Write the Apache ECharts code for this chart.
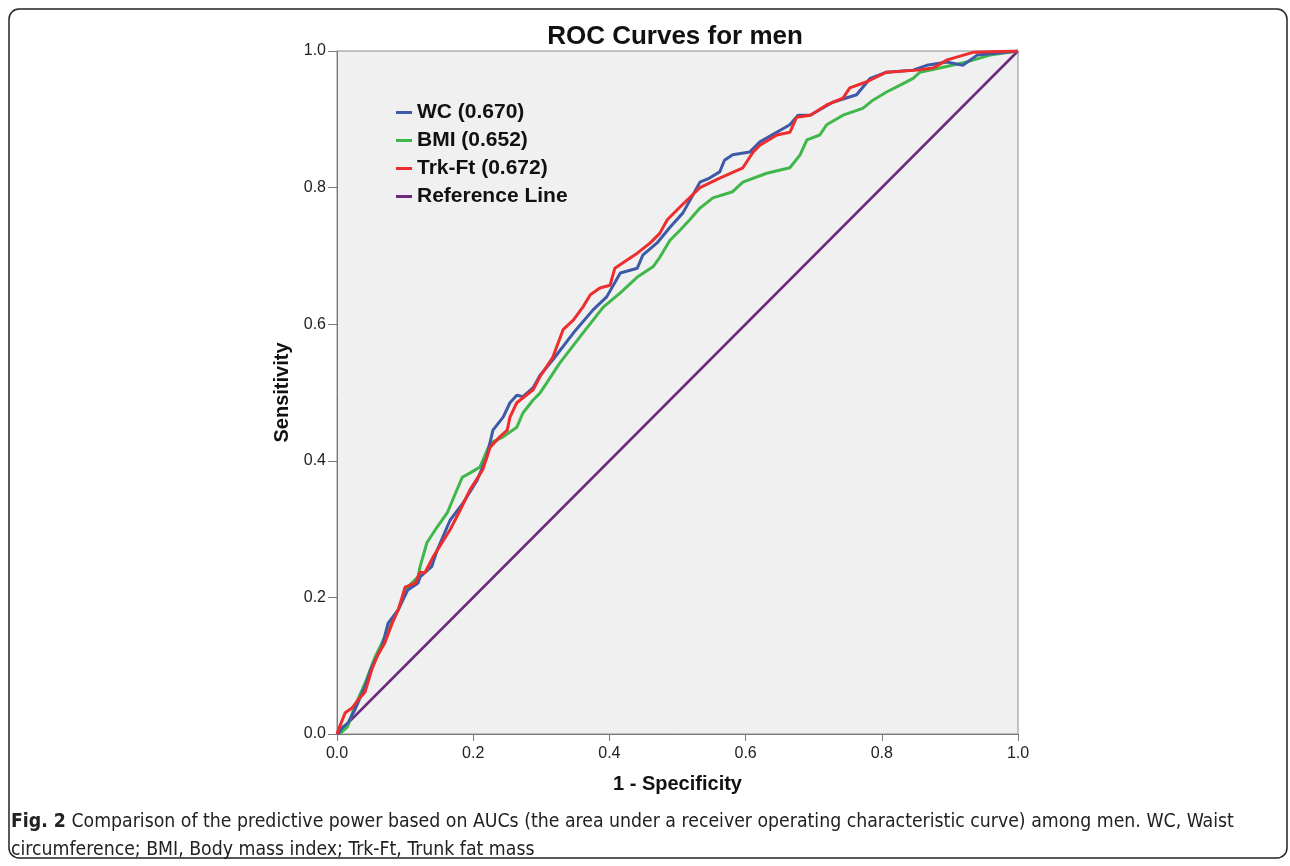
<!DOCTYPE html>
<html>
<head>
<meta charset="utf-8">
<script src="https://cdn.jsdelivr.net/npm/echarts@6/dist/echarts.min.js"></script>
<style>
  html, body { margin: 0; padding: 0; background: #fff; }
  #chart { width: 1290px; height: 866px; }
</style>
</head>
<body>
<div id="chart"></div>
<script>
// ROC points (1 - specificity, sensitivity)
const wcX = [0, 0.003, 0.007, 0.016, 0.026, 0.041, 0.051, 0.066, 0.075, 0.090, 0.104, 0.119, 0.122, 0.139, 0.147, 0.166, 0.185, 0.206, 0.220, 0.229, 0.244, 0.254, 0.264, 0.273, 0.288, 0.298, 0.317, 0.347, 0.376, 0.396, 0.416, 0.441, 0.449, 0.470, 0.489, 0.508, 0.523, 0.533, 0.547, 0.562, 0.569, 0.581, 0.606, 0.621, 0.665, 0.677, 0.695, 0.728, 0.763, 0.783, 0.807, 0.846, 0.866, 0.896, 0.919, 0.940, 0.970, 1]
const wcY = [0, 0.002, 0.009, 0.016, 0.035, 0.069, 0.098, 0.128, 0.162, 0.182, 0.211, 0.221, 0.230, 0.245, 0.269, 0.313, 0.338, 0.372, 0.406, 0.445, 0.464, 0.485, 0.496, 0.494, 0.507, 0.525, 0.548, 0.587, 0.621, 0.640, 0.675, 0.682, 0.701, 0.719, 0.742, 0.763, 0.790, 0.808, 0.814, 0.823, 0.840, 0.848, 0.852, 0.867, 0.892, 0.906, 0.906, 0.925, 0.936, 0.960, 0.969, 0.972, 0.979, 0.984, 0.979, 0.994, 0.997, 1]

const bmiX = [0, 0.007, 0.015, 0.026, 0.041, 0.056, 0.075, 0.090, 0.104, 0.119, 0.122, 0.132, 0.147, 0.162, 0.170, 0.184, 0.195, 0.210, 0.225, 0.244, 0.264, 0.273, 0.288, 0.298, 0.308, 0.327, 0.361, 0.391, 0.416, 0.441, 0.464, 0.474, 0.489, 0.504, 0.518, 0.533, 0.552, 0.581, 0.596, 0.631, 0.665, 0.680, 0.690, 0.709, 0.719, 0.743, 0.772, 0.787, 0.807, 0.827, 0.846, 0.856, 0.885, 0.925, 0.959, 1]
const bmiY = [0, 0.003, 0.010, 0.040, 0.074, 0.113, 0.152, 0.182, 0.215, 0.230, 0.245, 0.280, 0.303, 0.324, 0.343, 0.376, 0.382, 0.391, 0.426, 0.435, 0.449, 0.470, 0.489, 0.499, 0.514, 0.543, 0.587, 0.625, 0.646, 0.669, 0.684, 0.698, 0.723, 0.738, 0.753, 0.770, 0.785, 0.794, 0.808, 0.821, 0.829, 0.848, 0.870, 0.877, 0.892, 0.906, 0.916, 0.928, 0.940, 0.950, 0.960, 0.969, 0.975, 0.984, 0.994, 1]

const trkX = [0, 0.002, 0.012, 0.022, 0.031, 0.041, 0.051, 0.060, 0.070, 0.081, 0.090, 0.100, 0.115, 0.122, 0.129, 0.141, 0.166, 0.181, 0.195, 0.214, 0.225, 0.239, 0.250, 0.254, 0.264, 0.288, 0.298, 0.317, 0.332, 0.347, 0.361, 0.372, 0.386, 0.401, 0.408, 0.426, 0.441, 0.460, 0.474, 0.485, 0.504, 0.533, 0.562, 0.596, 0.611, 0.621, 0.646, 0.665, 0.675, 0.695, 0.719, 0.743, 0.753, 0.778, 0.807, 0.852, 0.875, 0.896, 0.934, 1]
const trkY = [0, 0.006, 0.031, 0.038, 0.050, 0.061, 0.094, 0.116, 0.133, 0.162, 0.182, 0.215, 0.221, 0.237, 0.236, 0.259, 0.299, 0.328, 0.357, 0.387, 0.420, 0.435, 0.445, 0.464, 0.485, 0.504, 0.523, 0.552, 0.592, 0.606, 0.625, 0.643, 0.653, 0.657, 0.682, 0.694, 0.704, 0.719, 0.733, 0.753, 0.772, 0.800, 0.814, 0.829, 0.852, 0.862, 0.877, 0.881, 0.903, 0.906, 0.921, 0.931, 0.946, 0.955, 0.969, 0.972, 0.975, 0.987, 0.998, 1]

const refX = [0, 1]
const refY = [0, 1]

const names = ['WC (0.670)', 'BMI (0.652)', 'Trk-Ft (0.672)', 'Reference Line']
const colors = ['#3d5aa8', '#40b74a', '#ee2d2e', '#6d2a7c']

const pairs = (xs, ys) => xs.map((x, i) => [x, ys[i]])

const myChart = echarts.init(document.getElementById('chart'))
const sans = '"Liberation Sans", Arial, sans-serif'
const narrow = '"DejaVu Sans Condensed", "Liberation Sans Narrow", sans-serif'

myChart.setOption({
    animation: false,
    color: colors,
    grid: {
        left: 337,
        top: 51,
        width: 681,
        height: 683,
        show: true,
        backgroundColor: '#f0f0f0',
        borderColor: '#8a8a8a',
        borderWidth: 1
    },
    legend: {
        data: names,
        orient: 'vertical',
        left: 391,
        top: 97,
        itemGap: 7,
        itemWidth: 16,
        itemHeight: 3,
        icon: 'rect',
        textStyle: {
            fontFamily: sans,
            fontWeight: 'bold',
            fontSize: 21,
            color: '#111'
        }
    },
    xAxis: {
        type: 'value',
        min: 0,
        max: 1,
        interval: 0.2,
        name: '1 - Specificity',
        nameLocation: 'middle',
        nameGap: 40,
        nameTextStyle: { fontFamily: sans, fontWeight: 'bold', fontSize: 20, color: '#111' },
        axisLine: { show: true, lineStyle: { color: '#7a7a7a', width: 1 } },
        axisTick: { show: true, length: 7, lineStyle: { color: '#7a7a7a' } },
        axisLabel: { formatter: (v) => v.toFixed(1), fontFamily: sans, fontSize: 16, color: '#222', margin: 12 },
        splitLine: { show: false }
    },
    yAxis: {
        type: 'value',
        min: 0,
        max: 1,
        interval: 0.2,
        name: 'Sensitivity',
        nameLocation: 'middle',
        nameGap: 36,
        nameRotate: 90,
        nameTextStyle: { fontFamily: sans, fontWeight: 'bold', fontSize: 20, color: '#111' },
        axisLine: { show: true, lineStyle: { color: '#7a7a7a', width: 1 } },
        axisTick: { show: true, length: 9, lineStyle: { color: '#7a7a7a' } },
        axisLabel: { formatter: (v) => v.toFixed(1), fontFamily: sans, fontSize: 16, color: '#222', margin: 11 },
        splitLine: { show: false }
    },
    series: [
        { name: names[0], type: 'line', data: pairs(wcX, wcY), showSymbol: false, lineStyle: { width: 3 }, z: 3 },
        { name: names[1], type: 'line', data: pairs(bmiX, bmiY), showSymbol: false, lineStyle: { width: 3 }, z: 2 },
        { name: names[2], type: 'line', data: pairs(trkX, trkY), showSymbol: false, lineStyle: { width: 3 }, z: 4 },
        { name: names[3], type: 'line', data: pairs(refX, refY), showSymbol: false, lineStyle: { width: 2.5 }, z: 1 }
    ],
    graphic: [
        {
            type: 'rect',
            shape: { x: 9, y: 9, width: 1278, height: 849, r: 10 },
            style: { fill: 'none', stroke: '#222', lineWidth: 1.5 },
            silent: true
        },
        {
            type: 'text',
            x: 675,
            y: 37,
            style: {
                text: 'ROC Curves for men',
                font: 'bold 26px "Liberation Sans", Arial, sans-serif',
                fill: '#111',
                align: 'center',
                verticalAlign: 'middle'
            }
        },
        {
            type: 'text',
            x: 11,
            y: 808,
            style: {
                text: '{b|Fig. 2} Comparison of the predictive power based on AUCs (the area under a receiver operating characteristic curve) among men. WC, Waist\ncircumference; BMI, Body mass index; Trk-Ft, Trunk fat mass',
                font: '19.3px ' + narrow,
                fill: '#222',
                lineHeight: 28,
                rich: {
                    b: { font: 'bold 19.3px ' + narrow, fill: '#222', lineHeight: 28 }
                }
            }
        }
    ]
})
window.onresize = function () {
    myChart.resize();
};
</script>
</body>
</html>
